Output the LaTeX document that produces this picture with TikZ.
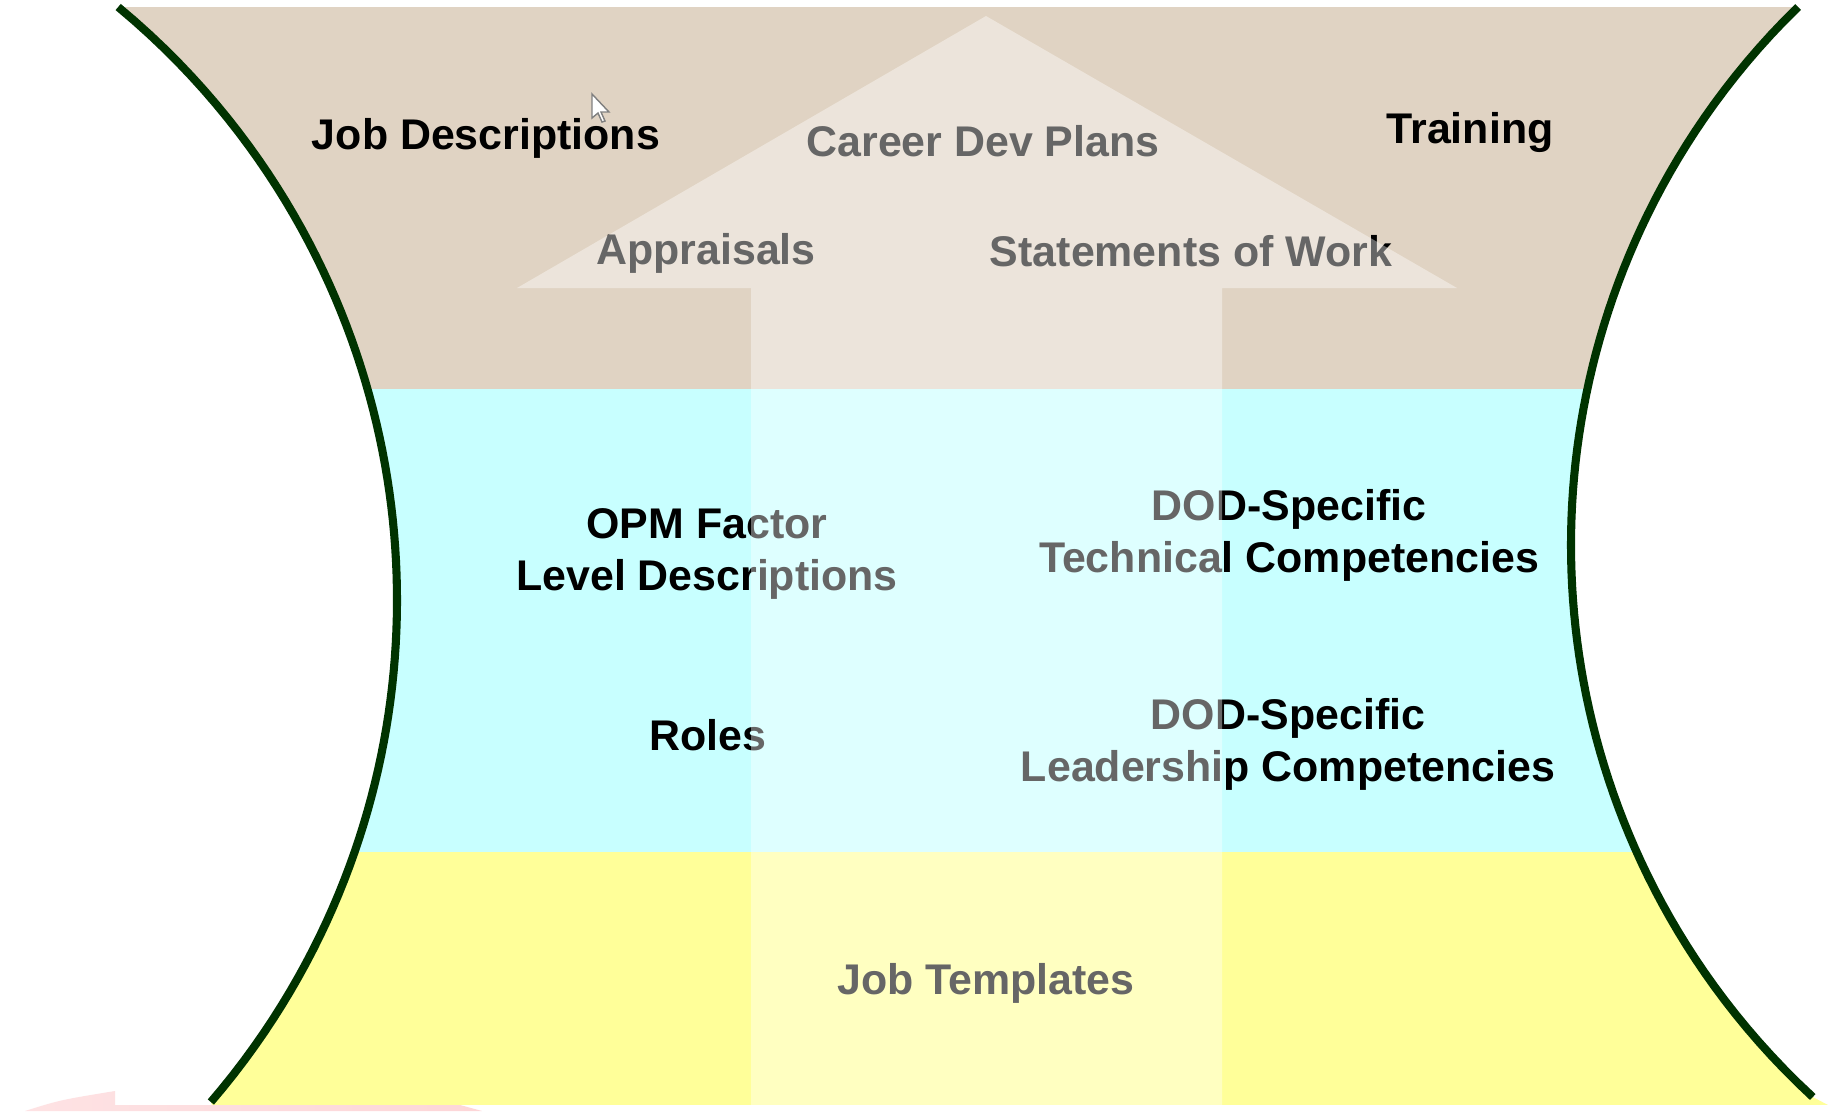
\documentclass[tikz,border=0pt]{standalone}
\usepackage{fontspec}
\setmainfont{Liberation Sans}
\usepackage{tikz}

\definecolor{topband}{RGB}{224,211,195}
\definecolor{midband}{RGB}{200,255,255}
\definecolor{lowband}{RGB}{255,255,153}
\definecolor{rimgreen}{RGB}{0,51,0}
\definecolor{smudge}{RGB}{253,214,216}

\tikzset{
    lbl/.style={font=\bfseries\fontsize{12.2}{14.8}\selectfont, align=center, inner sep=0pt},
    rim/.style={rimgreen, line width=2.3pt}
}

\begin{document}
\begin{tikzpicture}[x=0.01cm, y=-0.01cm]
    \useasboundingbox (0,0) rectangle (1838,1111);
    \fill[white] (0,0) rectangle (1838,1111);
    % pink scrap at the bottom left
    \shade[left color=smudge!70, right color=smudge] (25,1111) .. controls (60,1100) .. (115,1091) -- (115,1105) -- (460,1105) -- (482,1111) -- cycle;
    \begin{scope}
        \clip plot[domain=7:1102, samples=80] ({-373+100*sqrt(59.29-((\x-600)/100)^2)}, \x)
            -- (212,1105) -- (1828,1105)
            -- plot[domain=1097:7, samples=80] ({2322-100*sqrt(56.40-((\x-545)/100)^2)}, \x)
            -- cycle;
        \fill[topband] (0,7) rectangle (1838,389);
        \fill[midband] (0,389) rectangle (1838,852);
        \fill[lowband] (0,852) rectangle (1838,1105);
        % labels
        \node[lbl] (jobdesc) at (486,138) {Job Descriptions};
        \node[lbl] (career) at (983,141) {Career Dev Plans};
        \node[lbl] (training) at (1470,132) {Training};
        \node[lbl] (appraisals) at (706,253) {Appraisals};
        \node[lbl] (sow) at (1191,251) {Statements of Work};
        \node[lbl] (opm) at (707,554) {OPM Factor\\Level Descriptions};
        \node[lbl] (dodtech) at (1289,535) {DOD-Specific\\Technical Competencies};
        \node[lbl] (roles) at (708,735) {Roles};
        \node[lbl] (dodlead) at (1288,744) {DOD-Specific\\Leadership Competencies};
        \node[lbl] (jobtemp) at (986,983) {Job Templates};
        % big pale arrow over everything
        \fill[white, opacity=0.4] (751,1110) -- (751,288) -- (517,288) -- (986,16) -- (1457,288) -- (1222,288) -- (1222,1110) -- cycle;
    \end{scope}
    % the two rims
    \draw[rim] plot[domain=7:1102, samples=80] ({-373+100*sqrt(59.29-((\x-600)/100)^2)}, \x);
    \draw[rim] plot[domain=7:1097, samples=80] ({2322-100*sqrt(56.40-((\x-545)/100)^2)}, \x);
    % mouse pointer
    \draw[gray, fill=white, line width=0.4pt, shift={(592,94)}] (0,0) -- (0,24) -- (6,19) -- (10,28) -- (13,27) -- (9,18) -- (17,18) -- cycle;
\end{tikzpicture}
\end{document}
